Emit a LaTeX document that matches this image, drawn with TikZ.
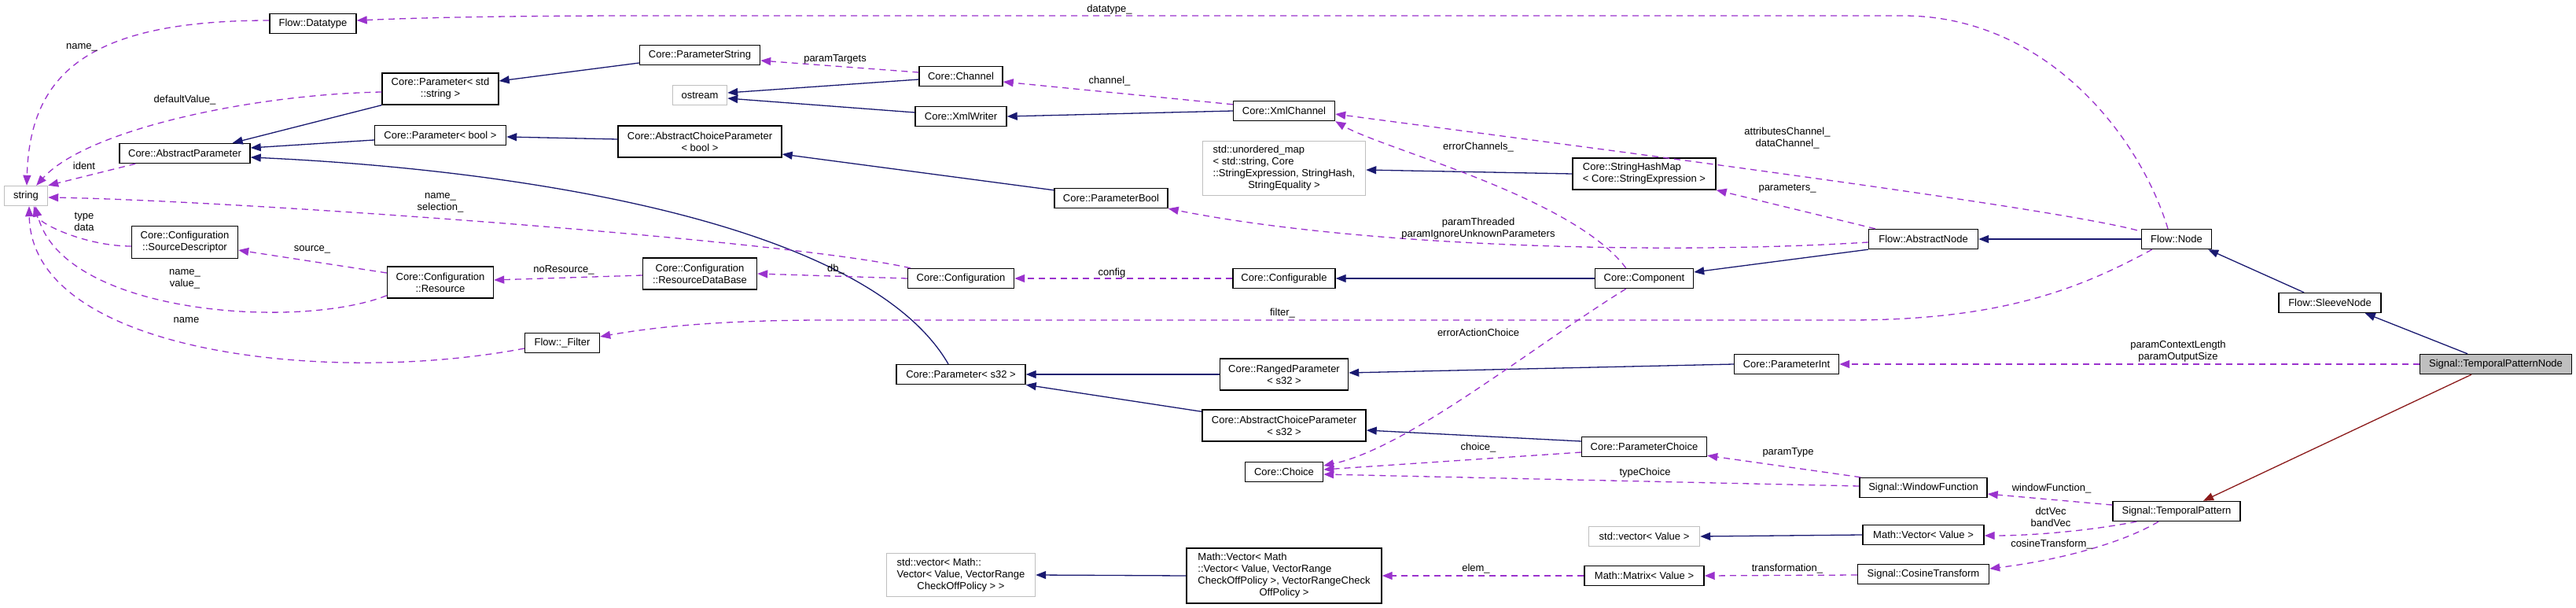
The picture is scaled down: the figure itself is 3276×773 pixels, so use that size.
\documentclass[tikz,border=0pt]{standalone}
\usepackage{fontspec}
\setmainfont{Liberation Sans}
\usetikzlibrary{
    arrows.meta,
    calc
}
\definecolor{colorInherit}{RGB}{25, 25, 112}
\definecolor{colorPrivate}{RGB}{139, 26, 26}
\definecolor{colorUsage}{RGB}{154, 50, 205}
\definecolor{colorExternal}{RGB}{191, 191, 191}
\definecolor{bgRoot}{RGB}{191, 191, 191}
\tikzset{
    classBox/.style={
        rectangle, draw=black, line width=1.4pt, fill=white,
        minimum height=25pt, inner sep=2pt,
        align=center, font=\fontsize{13}{15}\selectfont, text=black
    },
    externalBox/.style={
        classBox, draw=colorExternal
    },
    rootBox/.style={
        classBox, fill=bgRoot
    },
    inheritArrow/.style={
        -{Triangle[length=13pt,width=10pt]},
        line width=1.3pt, color=colorInherit
    },
    privateArrow/.style={
        -{Triangle[length=13pt,width=10pt]},
        line width=1.3pt, color=colorPrivate
    },
    usageArrow/.style={
        -{Triangle[length=13pt,width=10pt]},
        line width=1.3pt, color=colorUsage, dash pattern=on 8pt off 6pt
    },
    memberLabel/.style={
        font=\fontsize{13}{15}\selectfont, align=center,
        inner sep=0pt, text=black
    },
}
\begin{document}
\begin{tikzpicture}[x=1pt, y=-1pt]

    \useasboundingbox (0,0) rectangle (3276,773);

    % ----------------------------------------------------------
    % CLASES — posiciones en pixeles (y hacia abajo)
    % ----------------------------------------------------------

    % Columna izquierda
    \node[externalBox, minimum width=55pt]  at (33, 249)  (str)              {string};
    \node[classBox, minimum width=110pt]    at (398, 30)  (flowDatatype)     {Flow::Datatype};
    \node[classBox, minimum width=148pt, minimum height=40pt]
                                            at (560, 113) (paramStdString)   {Core::Parameter< std\\::string >};
    \node[classBox, minimum width=167pt]    at (560, 172) (paramBool)        {Core::Parameter< bool >};
    \node[classBox, minimum width=166pt]    at (235, 195) (abstractParam)    {Core::AbstractParameter};
    \node[classBox, minimum width=135pt, minimum height=41pt]
                                            at (235, 308) (sourceDescriptor) {Core::Configuration\\::SourceDescriptor};
    \node[classBox, minimum width=135pt, minimum height=40pt]
                                            at (560, 359) (configResource)   {Core::Configuration\\::Resource};
    \node[classBox, minimum width=95pt]     at (715, 436) (flowFilter)       {Flow::\_Filter};

    % Columna central
    \node[classBox, minimum width=153pt]    at (890, 70)  (paramString)      {Core::ParameterString};
    \node[externalBox, minimum width=69pt]  at (890, 121) (ostream)          {ostream};
    \node[classBox, minimum width=208pt, minimum height=40pt]
                                            at (890, 180) (abstractChoiceBool) {Core::AbstractChoiceParameter\\< bool >};
    \node[classBox, minimum width=145pt, minimum height=40pt]
                                            at (890, 348) (resourceDataBase) {Core::Configuration\\::ResourceDataBase};
    \node[classBox, minimum width=106pt]    at (1222, 97)  (coreChannel)     {Core::Channel};
    \node[classBox, minimum width=116pt]    at (1222, 148) (xmlWriter)       {Core::XmlWriter};
    \node[classBox, minimum width=144pt]    at (1413, 252) (parameterBool)   {Core::ParameterBool};
    \node[classBox, minimum width=135pt]    at (1222, 354) (coreConfiguration) {Core::Configuration};
    \node[classBox, minimum width=164pt]    at (1222, 476) (paramS32)        {Core::Parameter< s32 >};
    \node[externalBox, minimum width=189pt, minimum height=55pt]
                                            at (1222, 731) (stdVectorMath)
        {\begin{tabular}{@{}l@{}}std::vector< Math::\\Vector< Value, VectorRange\\\multicolumn{1}{@{}c@{}}{CheckOffPolicy > >}\end{tabular}};

    \node[classBox, minimum width=129pt]    at (1633, 141) (xmlChannel)      {Core::XmlChannel};
    \node[externalBox, minimum width=207pt, minimum height=69pt]
                                            at (1633, 214) (unorderedMap)
        {\begin{tabular}{@{}l@{}}std::unordered\_map\\< std::string, Core\\::StringExpression, StringHash,\\\multicolumn{1}{@{}c@{}}{StringEquality >}\end{tabular}};
    \node[classBox, minimum width=130pt]    at (1633, 354) (coreConfigurable) {Core::Configurable};
    \node[classBox, minimum width=163pt, minimum height=40pt]
                                            at (1633, 476) (rangedParam)     {Core::RangedParameter\\< s32 >};
    \node[classBox, minimum width=208pt, minimum height=40pt]
                                            at (1633, 541) (abstractChoiceS32) {Core::AbstractChoiceParameter\\< s32 >};
    \node[classBox, minimum width=99pt]     at (1633, 600) (coreChoice)      {Core::Choice};
    \node[classBox, minimum width=248pt, minimum height=70pt]
                                            at (1633, 732) (mathVectorMath)
        {\begin{tabular}{@{}l@{}}Math::Vector< Math\\::Vector< Value, VectorRange\\CheckOffPolicy >, VectorRangeCheck\\\multicolumn{1}{@{}c@{}}{OffPolicy >}\end{tabular}};

    % Columna derecha
    \node[classBox, minimum width=182pt, minimum height=40pt]
                                            at (2091, 221) (stringHashMap)
        {\begin{tabular}{@{}l@{}}Core::StringHashMap\\\multicolumn{1}{@{}c@{}}{< Core::StringExpression >}\end{tabular}};
    \node[classBox, minimum width=125pt]    at (2091, 354) (coreComponent)   {Core::Component};
    \node[classBox, minimum width=159pt]    at (2091, 568) (parameterChoice) {Core::ParameterChoice};
    \node[externalBox, minimum width=141pt] at (2091, 682) (stdVectorValue)  {std::vector< Value >};
    \node[classBox, minimum width=152pt]    at (2091, 732) (mathMatrix)      {Math::Matrix< Value >};
    \node[classBox, minimum width=139pt]    at (2446, 304) (abstractNode)    {Flow::AbstractNode};
    \node[classBox, minimum width=133pt]    at (2272, 463) (parameterInt)    {Core::ParameterInt};
    \node[classBox, minimum width=162pt]    at (2446, 620) (windowFunction)  {Signal::WindowFunction};
    \node[classBox, minimum width=154pt]    at (2446, 680) (mathVectorValue) {Math::Vector< Value >};
    \node[classBox, minimum width=167pt]    at (2446, 730) (cosineTransform) {Signal::CosineTransform};
    \node[classBox, minimum width=89pt]     at (2768, 304) (flowNode)        {Flow::Node};
    \node[classBox, minimum width=162pt]    at (2768, 650) (temporalPattern) {Signal::TemporalPattern};
    \node[classBox, minimum width=130pt]    at (2963, 385) (sleeveNode)      {Flow::SleeveNode};
    \node[rootBox, minimum width=193pt]     at (3174, 463) (temporalPatternNode) {Signal::TemporalPatternNode};

    % ----------------------------------------------------------
    % HERENCIA (flecha en la clase base)
    % ----------------------------------------------------------
    \draw[inheritArrow] (paramStdString.south west) -- ($(abstractParam.north east)+(-23,0)$);
    \draw[inheritArrow] ($(paramBool.west)+(0,6)$) -- ($(abstractParam.east)+(0,-7)$);
    \draw[inheritArrow] ($(paramS32.north)+(-16,0)$)
        .. controls (1100,280) and (650,215) .. ($(abstractParam.east)+(0,5)$);
    \draw[inheritArrow] ($(paramString.west)+(0,10)$) -- ($(paramStdString.east)+(0,-10)$);
    \draw[inheritArrow] ($(abstractChoiceBool.west)+(0,-3)$) -- ($(paramBool.east)+(0,2)$);
    \draw[inheritArrow] ($(coreChannel.west)+(0,4)$) -- ($(ostream.east)+(0,-3)$);
    \draw[inheritArrow] ($(xmlWriter.west)+(0,-5)$) -- ($(ostream.east)+(0,4)$);
    \draw[inheritArrow] (xmlChannel.west) -- (xmlWriter.east);
    \draw[inheritArrow] ($(parameterBool.north west)+(0,3)$) -- ($(abstractChoiceBool.east)+(0,16)$);
    \draw[inheritArrow] (stringHashMap.west) -- ($(unorderedMap.east)+(0,2)$);
    \draw[inheritArrow] (coreComponent.west) -- (coreConfigurable.east);
    \draw[inheritArrow] (abstractNode.south west) -- ($(coreComponent.east)+(0,-8)$);
    \draw[inheritArrow] (flowNode.west) -- (abstractNode.east);
    \draw[inheritArrow] ($(sleeveNode.north)+(-33,0)$) -- ($(flowNode.south east)+(-5,0)$);
    \draw[inheritArrow] ($(temporalPatternNode.north)+(-36,0)$) -- ($(sleeveNode.south east)+(-21,0)$);
    \draw[inheritArrow] (rangedParam.west) -- (paramS32.east);
    \draw[inheritArrow] ($(abstractChoiceS32.north west)+(0,3)$) -- (paramS32.south east);
    \draw[inheritArrow] (parameterInt.west) -- ($(rangedParam.east)+(0,-2)$);
    \draw[inheritArrow] ($(parameterChoice.west)+(0,-7)$) -- ($(abstractChoiceS32.east)+(0,6)$);
    \draw[inheritArrow] (mathVectorValue.west) -- (stdVectorValue.east);
    \draw[inheritArrow] (mathVectorMath.west) -- (stdVectorMath.east);
    \draw[privateArrow] ($(temporalPatternNode.south)+(-31,0)$) -- ($(temporalPattern.north)+(34,0)$);

    % ----------------------------------------------------------
    % USO (miembros)
    % ----------------------------------------------------------
    \draw[usageArrow] ($(flowDatatype.west)+(0,-4)$)
        .. controls (110,26) and (38,95) .. ($(str.north)+(1,0)$);
    \draw[usageArrow] ($(paramStdString.west)+(0,4)$)
        .. controls (320,120) and (110,165) .. ($(str.north east)+(-15,0)$);
    \draw[usageArrow] ($(abstractParam.south west)+(21,0)$) -- (str.north east);
    \draw[usageArrow] ($(coreConfiguration.north west)+(4,0)$)
        .. controls (1000,305) and (300,255) .. ($(str.east)+(0,2)$);
    \draw[usageArrow] ($(sourceDescriptor.west)+(0,5)$)
        .. controls (110,313) and (50,285) .. ($(str.south)+(10,0)$);
    \draw[usageArrow] ($(configResource.south west)+(0,-4)$)
        .. controls (380,420) and (80,400) .. ($(str.south)+(12,0)$);
    \draw[usageArrow] ($(flowFilter.west)+(0,7)$)
        .. controls (420,490) and (40,450) .. ($(str.south)+(4,0)$);
    \draw[usageArrow] ($(configResource.west)+(0,-12)$) -- ($(sourceDescriptor.east)+(0,10)$);
    \draw[usageArrow] ($(resourceDataBase.west)+(0,2)$) -- ($(configResource.east)+(0,-3)$);
    \draw[usageArrow] (coreConfiguration.west) -- (resourceDataBase.east);
    \draw[usageArrow] (coreConfigurable.west) -- (coreConfiguration.east);
    \draw[usageArrow] ($(coreChannel.west)+(0,-5)$) -- ($(paramString.east)+(0,7)$);
    \draw[usageArrow] ($(xmlChannel.north west)+(0,5)$) -- ($(coreChannel.east)+(0,7)$);
    \draw[usageArrow] ($(flowNode.north)+(-11,0)$)
        .. controls (2720,170) and (2600,20) .. (2420,20)
        -- (820,20)
        .. controls (600,20) and (500,24) .. ($(flowDatatype.east)+(0,-4)$);
    \draw[usageArrow] ($(flowNode.north west)+(-5,2)$)
        .. controls (2600,262) and (2000,185) .. ($(xmlChannel.east)+(0,4)$);
    \draw[usageArrow] ($(coreComponent.north west)+(40,0)$)
        .. controls (2000,250) and (1760,190) .. (xmlChannel.south east);
    \draw[usageArrow] ($(abstractNode.north west)+(9,0)$) -- (stringHashMap.south east);
    \draw[usageArrow] ($(abstractNode.west)+(0,4)$)
        .. controls (2100,325) and (1720,312) .. (parameterBool.south east);
    \draw[usageArrow] ($(flowNode.south west)+(14,0)$)
        .. controls (2640,370) and (2540,407) .. (2350,407)
        -- (1050,407)
        .. controls (900,407) and (820,418) .. ($(flowFilter.east)+(0,-8)$);
    \draw[usageArrow] ($(coreComponent.south west)+(40,0)$)
        .. controls (1950,440) and (1790,570) .. ($(coreChoice.east)+(0,-8)$);
    \draw[usageArrow] ($(parameterChoice.west)+(0,7)$) -- ($(coreChoice.east)+(0,-3)$);
    \draw[usageArrow] ($(windowFunction.west)+(0,-2)$) -- ($(coreChoice.east)+(0,3)$);
    \draw[usageArrow] ($(windowFunction.north west)+(2,0)$) -- ($(parameterChoice.south east)+(0,-2)$);
    \draw[usageArrow] (temporalPatternNode.west) -- (parameterInt.east);
    \draw[usageArrow] ($(temporalPattern.west)+(0,-8)$) -- ($(windowFunction.east)+(0,8)$);
    \draw[usageArrow] ($(temporalPattern.south west)+(31,0)$)
        .. controls (2650,676) and (2580,681) .. ($(mathVectorValue.east)+(0,1)$);
    \draw[usageArrow] ($(temporalPattern.south)+(-23,0)$)
        .. controls (2700,690) and (2620,712) .. ($(cosineTransform.east)+(0,-7)$);
    \draw[usageArrow] ($(cosineTransform.west)+(0,1)$) -- (mathMatrix.east);
    \draw[usageArrow] (mathMatrix.west) -- (mathVectorMath.east);

    % ----------------------------------------------------------
    % ETIQUETAS DE MIEMBROS
    % ----------------------------------------------------------
    \node[memberLabel] at (104, 60)   (lblDatatypeName)  {name\_};
    \node[memberLabel] at (235, 127)  (lblDefaultValue)  {defaultValue\_};
    \node[memberLabel] at (107, 211)  (lblIdent)         {ident};
    \node[memberLabel] at (560, 258)  (lblSelection)     {name\_\\selection\_};
    \node[memberLabel] at (107, 282)  (lblTypeData)      {type\\data};
    \node[memberLabel] at (397, 317)  (lblSource)        {source\_};
    \node[memberLabel] at (235, 355)  (lblNameValue)     {name\_\\value\_};
    \node[memberLabel] at (237, 407)  (lblFilterName)    {name};
    \node[memberLabel] at (717, 343)  (lblNoResource)    {noResource\_};
    \node[memberLabel] at (1411, 12)  (lblDatatype)      {datatype\_};
    \node[memberLabel] at (1062, 75)  (lblParamTargets)  {paramTargets};
    \node[memberLabel] at (1411, 103) (lblChannel)       {channel\_};
    \node[memberLabel] at (1063, 342) (lblDb)            {db\_};
    \node[memberLabel] at (1414, 347) (lblConfig)        {config};
    \node[memberLabel] at (1631, 398) (lblFilter)        {filter\_};
    \node[memberLabel] at (1880, 187) (lblErrorChannels) {errorChannels\_};
    \node[memberLabel] at (2273, 176) (lblDataChannel)   {attributesChannel\_\\dataChannel\_};
    \node[memberLabel] at (2273, 240) (lblParameters)    {parameters\_};
    \node[memberLabel] at (1880, 291) (lblParamThreaded) {paramThreaded\\paramIgnoreUnknownParameters};
    \node[memberLabel] at (1880, 423) (lblErrorAction)   {errorActionChoice};
    \node[memberLabel] at (1880, 569) (lblChoice)        {choice\_};
    \node[memberLabel] at (2274, 575) (lblParamType)     {paramType};
    \node[memberLabel] at (2092, 601) (lblTypeChoice)    {typeChoice};
    \node[memberLabel] at (2770, 447) (lblContextLength) {paramContextLength\\paramOutputSize};
    \node[memberLabel] at (2609, 621) (lblWindowFunction) {windowFunction\_};
    \node[memberLabel] at (2608, 657) (lblDctVec)        {dctVec\\bandVec};
    \node[memberLabel] at (2609, 692) (lblCosine)        {cosineTransform\_};
    \node[memberLabel] at (2273, 723) (lblTransformation) {transformation\_};
    \node[memberLabel] at (1877, 723) (lblElem)          {elem\_};

\end{tikzpicture}
\end{document}
